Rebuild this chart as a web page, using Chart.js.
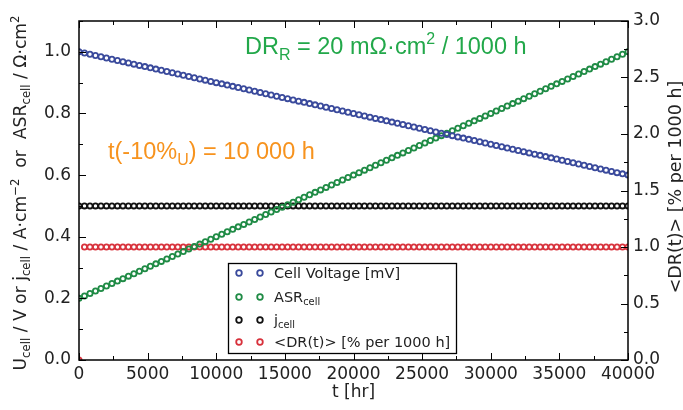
<!DOCTYPE html>
<html>
<head>
<meta charset="utf-8">
<script src="https://cdn.jsdelivr.net/npm/chart.js@4.4.1/dist/chart.umd.min.js"></script>
<style>
  html, body { margin: 0; padding: 0; background: #fff; }
  #wrap { width: 683px; height: 410px; }
</style>
</head>
<body>
<div id="wrap"><canvas id="my-chart" width="683" height="410"></canvas></div>
<script>
// operating time [h]
const hours = [
  0, 400, 800, 1200, 1600, 2000, 2400, 2800, 3200, 3600,
  4000, 4400, 4800, 5200, 5600, 6000, 6400, 6800, 7200, 7600,
  8000, 8400, 8800, 9200, 9600, 10000, 10400, 10800, 11200, 11600,
  12000, 12400, 12800, 13200, 13600, 14000, 14400, 14800, 15200, 15600,
  16000, 16400, 16800, 17200, 17600, 18000, 18400, 18800, 19200, 19600,
  20000, 20400, 20800, 21200, 21600, 22000, 22400, 22800, 23200, 23600,
  24000, 24400, 24800, 25200, 25600, 26000, 26400, 26800, 27200, 27600,
  28000, 28400, 28800, 29200, 29600, 30000, 30400, 30800, 31200, 31600,
  32000, 32400, 32800, 33200, 33600, 34000, 34400, 34800, 35200, 35600,
  36000, 36400, 36800, 37200, 37600, 38000, 38400, 38800, 39200, 39600,
  40000
]

// cell voltage [V]
const cellVoltage = [
  1.000, 0.996, 0.992, 0.988, 0.984, 0.980, 0.976, 0.972, 0.968, 0.964,
  0.960, 0.956, 0.952, 0.948, 0.944, 0.940, 0.936, 0.932, 0.928, 0.924,
  0.920, 0.916, 0.912, 0.908, 0.904, 0.900, 0.896, 0.892, 0.888, 0.884,
  0.880, 0.876, 0.872, 0.868, 0.864, 0.860, 0.856, 0.852, 0.848, 0.844,
  0.840, 0.836, 0.832, 0.828, 0.824, 0.820, 0.816, 0.812, 0.808, 0.804,
  0.800, 0.796, 0.792, 0.788, 0.784, 0.780, 0.776, 0.772, 0.768, 0.764,
  0.760, 0.756, 0.752, 0.748, 0.744, 0.740, 0.736, 0.732, 0.728, 0.724,
  0.720, 0.716, 0.712, 0.708, 0.704, 0.700, 0.696, 0.692, 0.688, 0.684,
  0.680, 0.676, 0.672, 0.668, 0.664, 0.660, 0.656, 0.652, 0.648, 0.644,
  0.640, 0.636, 0.632, 0.628, 0.624, 0.620, 0.616, 0.612, 0.608, 0.604,
  0.600
]

// area specific resistance [Ohm cm2]
const asrCell = [
  0.200, 0.208, 0.216, 0.224, 0.232, 0.240, 0.248, 0.256, 0.264, 0.272,
  0.280, 0.288, 0.296, 0.304, 0.312, 0.320, 0.328, 0.336, 0.344, 0.352,
  0.360, 0.368, 0.376, 0.384, 0.392, 0.400, 0.408, 0.416, 0.424, 0.432,
  0.440, 0.448, 0.456, 0.464, 0.472, 0.480, 0.488, 0.496, 0.504, 0.512,
  0.520, 0.528, 0.536, 0.544, 0.552, 0.560, 0.568, 0.576, 0.584, 0.592,
  0.600, 0.608, 0.616, 0.624, 0.632, 0.640, 0.648, 0.656, 0.664, 0.672,
  0.680, 0.688, 0.696, 0.704, 0.712, 0.720, 0.728, 0.736, 0.744, 0.752,
  0.760, 0.768, 0.776, 0.784, 0.792, 0.800, 0.808, 0.816, 0.824, 0.832,
  0.840, 0.848, 0.856, 0.864, 0.872, 0.880, 0.888, 0.896, 0.904, 0.912,
  0.920, 0.928, 0.936, 0.944, 0.952, 0.960, 0.968, 0.976, 0.984, 0.992,
  1.000
]

// current density [A/cm2]
const jCell = [
  0.5, 0.5, 0.5, 0.5, 0.5, 0.5, 0.5, 0.5, 0.5, 0.5,
  0.5, 0.5, 0.5, 0.5, 0.5, 0.5, 0.5, 0.5, 0.5, 0.5,
  0.5, 0.5, 0.5, 0.5, 0.5, 0.5, 0.5, 0.5, 0.5, 0.5,
  0.5, 0.5, 0.5, 0.5, 0.5, 0.5, 0.5, 0.5, 0.5, 0.5,
  0.5, 0.5, 0.5, 0.5, 0.5, 0.5, 0.5, 0.5, 0.5, 0.5,
  0.5, 0.5, 0.5, 0.5, 0.5, 0.5, 0.5, 0.5, 0.5, 0.5,
  0.5, 0.5, 0.5, 0.5, 0.5, 0.5, 0.5, 0.5, 0.5, 0.5,
  0.5, 0.5, 0.5, 0.5, 0.5, 0.5, 0.5, 0.5, 0.5, 0.5,
  0.5, 0.5, 0.5, 0.5, 0.5, 0.5, 0.5, 0.5, 0.5, 0.5,
  0.5, 0.5, 0.5, 0.5, 0.5, 0.5, 0.5, 0.5, 0.5, 0.5,
  0.5
]

// mean degradation rate [% per 1000 h], right axis
const degradationRate = [
  0.0, 1.0, 1.0, 1.0, 1.0, 1.0, 1.0, 1.0, 1.0, 1.0,
  1.0, 1.0, 1.0, 1.0, 1.0, 1.0, 1.0, 1.0, 1.0, 1.0,
  1.0, 1.0, 1.0, 1.0, 1.0, 1.0, 1.0, 1.0, 1.0, 1.0,
  1.0, 1.0, 1.0, 1.0, 1.0, 1.0, 1.0, 1.0, 1.0, 1.0,
  1.0, 1.0, 1.0, 1.0, 1.0, 1.0, 1.0, 1.0, 1.0, 1.0,
  1.0, 1.0, 1.0, 1.0, 1.0, 1.0, 1.0, 1.0, 1.0, 1.0,
  1.0, 1.0, 1.0, 1.0, 1.0, 1.0, 1.0, 1.0, 1.0, 1.0,
  1.0, 1.0, 1.0, 1.0, 1.0, 1.0, 1.0, 1.0, 1.0, 1.0,
  1.0, 1.0, 1.0, 1.0, 1.0, 1.0, 1.0, 1.0, 1.0, 1.0,
  1.0, 1.0, 1.0, 1.0, 1.0, 1.0, 1.0, 1.0, 1.0, 1.0,
  1.0
]

const timeTicks = [0, 5000, 10000, 15000, 20000, 25000, 30000, 35000, 40000]
const leftTicks = [0.0, 0.2, 0.4, 0.6, 0.8, 1.0]
const rightTicks = [0.0, 0.5, 1.0, 1.5, 2.0, 2.5, 3.0]

const TICK_FONT = "'DejaVu Sans', sans-serif"
const NOTE_FONT = "'Liberation Sans', Arial, sans-serif"

const colors = {
  voltage: '#3a4a9c',
  asr: '#1f8b45',
  j: '#111111',
  dr: '#d8323c',
}

const toPoints = (ys) => ys.map((y, i) => ({ x: hours[i], y: y }))

const markerStyle = (color) => ({
  showLine: false,
  pointStyle: 'circle',
  pointRadius: 2.6,
  pointHoverRadius: 2.6,
  pointBorderWidth: 1.8,
  pointBorderColor: color,
  pointBackgroundColor: 'rgba(0,0,0,0)',
  borderColor: color,
})

// rich text: list of [text, 'sub' | 'sup' | ''] pieces
function richWidth(ctx, parts, size, family) {
  let w = 0
  parts.forEach(([t, kind]) => {
    ctx.font = (kind ? size * 0.68 : size) + 'px ' + family
    w += ctx.measureText(t).width
  })
  return w
}

function drawRich(ctx, parts, x, y, size, family, color, align) {
  const w = richWidth(ctx, parts, size, family)
  let cx = align === 'center' ? x - w / 2 : x
  ctx.fillStyle = color
  ctx.textBaseline = 'alphabetic'
  ctx.textAlign = 'left'
  parts.forEach(([t, kind]) => {
    const s = kind ? size * 0.68 : size
    ctx.font = s + 'px ' + family
    let dy = 0
    if (kind === 'sub') dy = size * 0.24
    if (kind === 'sup') dy = -size * 0.42
    ctx.fillText(t, cx, y + dy)
    cx += ctx.measureText(t).width
  })
}

const legendItems = [
  { parts: [['Cell Voltage [mV]', '']], color: colors.voltage },
  { parts: [['ASR', ''], ['cell', 'sub']], color: colors.asr },
  { parts: [['j', ''], ['cell', 'sub']], color: colors.j },
  { parts: [['<DR(t)> [% per 1000 h]', '']], color: colors.dr },
]

const decorations = {
  id: 'decorations',
  afterDraw(chart) {
    const ctx = chart.ctx
    const area = chart.chartArea
    const xs = chart.scales.x
    const yl = chart.scales.y
    const yr = chart.scales.y2
    ctx.save()

    // axes frame
    ctx.strokeStyle = '#000'
    ctx.lineWidth = 1.5
    ctx.strokeRect(area.left, area.top, area.right - area.left, area.bottom - area.top)

    // inward ticks, major and minor
    ctx.lineWidth = 1
    ctx.beginPath()
    for (let t = 0; t <= 40000; t += 2500) {
      const px = Math.round(xs.getPixelForValue(t)) + 0.5
      const len = t % 5000 === 0 ? 7 : 4
      ctx.moveTo(px, area.bottom); ctx.lineTo(px, area.bottom - len)
      ctx.moveTo(px, area.top); ctx.lineTo(px, area.top + len)
    }
    for (let k = 0; k <= 11; k++) {
      const py = Math.round(yl.getPixelForValue(k / 10)) + 0.5
      const len = k % 2 === 0 ? 7 : 4
      ctx.moveTo(area.left, py); ctx.lineTo(area.left + len, py)
    }
    for (let k = 0; k <= 12; k++) {
      const py = Math.round(yr.getPixelForValue(k / 4)) + 0.5
      const len = k % 2 === 0 ? 7 : 4
      ctx.moveTo(area.right, py); ctx.lineTo(area.right - len, py)
    }
    ctx.stroke()

    // axis titles
    drawRich(ctx, [['t [hr]', '']], (area.left + area.right) / 2, 397, 17, TICK_FONT, '#222', 'center')

    ctx.save()
    ctx.translate(26, 193)
    ctx.rotate(-Math.PI / 2)
    drawRich(ctx, [
      ['U', ''], ['cell', 'sub'], [' / V or j', ''], ['cell', 'sub'],
      [' / A\u00b7cm', ''], ['\u22122', 'sup'], ['  or  ASR', ''], ['cell', 'sub'],
      [' / \u03a9\u00b7cm', ''], ['2', 'sup'],
    ], 0, 0, 17.2, TICK_FONT, '#222', 'center')
    ctx.restore()

    ctx.save()
    ctx.translate(681, 187)
    ctx.rotate(-Math.PI / 2)
    drawRich(ctx, [['<DR(t)> [% per 1000 h]', '']], 0, 0, 17.5, TICK_FONT, '#222', 'center')
    ctx.restore()

    // annotations
    drawRich(ctx, [
      ['DR', ''], ['R', 'sub'], [' = 20 m\u03a9\u00b7cm', ''], ['2', 'sup'], [' / 1000 h', ''],
    ], 245, 54, 23.5, NOTE_FONT, '#22a84a', 'left')
    drawRich(ctx, [
      ['t(-10%', ''], ['U', 'sub'], [') = 10 000 h', ''],
    ], 108, 159, 23.5, NOTE_FONT, '#f7931e', 'left')

    // legend box
    const lx = 228, ly = 263, lw = 228, lh = 90
    ctx.fillStyle = '#fff'
    ctx.fillRect(lx, ly, lw, lh)
    ctx.strokeStyle = '#000'
    ctx.lineWidth = 1.3
    ctx.strokeRect(lx + 0.5, ly + 0.5, lw, lh)
    const rows = [273, 297, 320, 342]
    legendItems.forEach((item, i) => {
      const cy = rows[i]
      ctx.strokeStyle = item.color
      ctx.lineWidth = 1.8
      ;[239, 260].forEach((mx) => {
        ctx.beginPath()
        ctx.arc(mx, cy, 2.8, 0, Math.PI * 2)
        ctx.stroke()
      })
      drawRich(ctx, item.parts, 274, cy + 5, 14.5, TICK_FONT, '#222', 'left')
    })

    ctx.restore()
  }
}

const ctx = document.getElementById('my-chart').getContext('2d')

const data = {
  datasets: [
    { label: 'Cell Voltage [mV]', data: toPoints(cellVoltage), yAxisID: 'y', ...markerStyle(colors.voltage) },
    { label: 'ASR cell', data: toPoints(asrCell), yAxisID: 'y', ...markerStyle(colors.asr) },
    { label: 'j cell', data: toPoints(jCell), yAxisID: 'y', ...markerStyle(colors.j) },
    { label: '<DR(t)> [% per 1000 h]', data: toPoints(degradationRate), yAxisID: 'y2', ...markerStyle(colors.dr) },
  ]
}

const tickStyle = { family: TICK_FONT, size: 17 }

const options = {
  responsive: false,
  animation: false,
  devicePixelRatio: 1,
  layout: { padding: { top: 21, left: 0, right: 0, bottom: 0 } },
  plugins: {
    legend: { display: false },
    tooltip: { enabled: false },
  },
  scales: {
    x: {
      type: 'linear',
      min: 0,
      max: 40000,
      grid: { display: false, drawTicks: false },
      border: { display: false },
      afterBuildTicks: (scale) => { scale.ticks = timeTicks.map((v) => ({ value: v })) },
      afterFit: (scale) => { scale.height = 50 },
      ticks: { color: '#222', font: tickStyle, padding: 4, maxRotation: 0, autoSkip: false,
        callback: (v) => String(v) },
    },
    y: {
      position: 'left',
      min: 0,
      max: 1.1,
      grid: { display: false, drawTicks: false },
      border: { display: false },
      afterBuildTicks: (scale) => { scale.ticks = leftTicks.map((v) => ({ value: v })) },
      afterFit: (scale) => { scale.width = 79 },
      ticks: { color: '#222', font: tickStyle, padding: 8, callback: (v) => v.toFixed(1) },
    },
    y2: {
      position: 'right',
      min: 0,
      max: 3.0,
      grid: { display: false, drawTicks: false },
      border: { display: false },
      afterBuildTicks: (scale) => { scale.ticks = rightTicks.map((v) => ({ value: v })) },
      afterFit: (scale) => { scale.width = 55 },
      ticks: { color: '#222', font: tickStyle, padding: 5, callback: (v) => v.toFixed(1) },
    },
  },
}

const myChart = new Chart(ctx, { type: 'line', data: data, options: options, plugins: [decorations] })
</script>
</body>
</html>
